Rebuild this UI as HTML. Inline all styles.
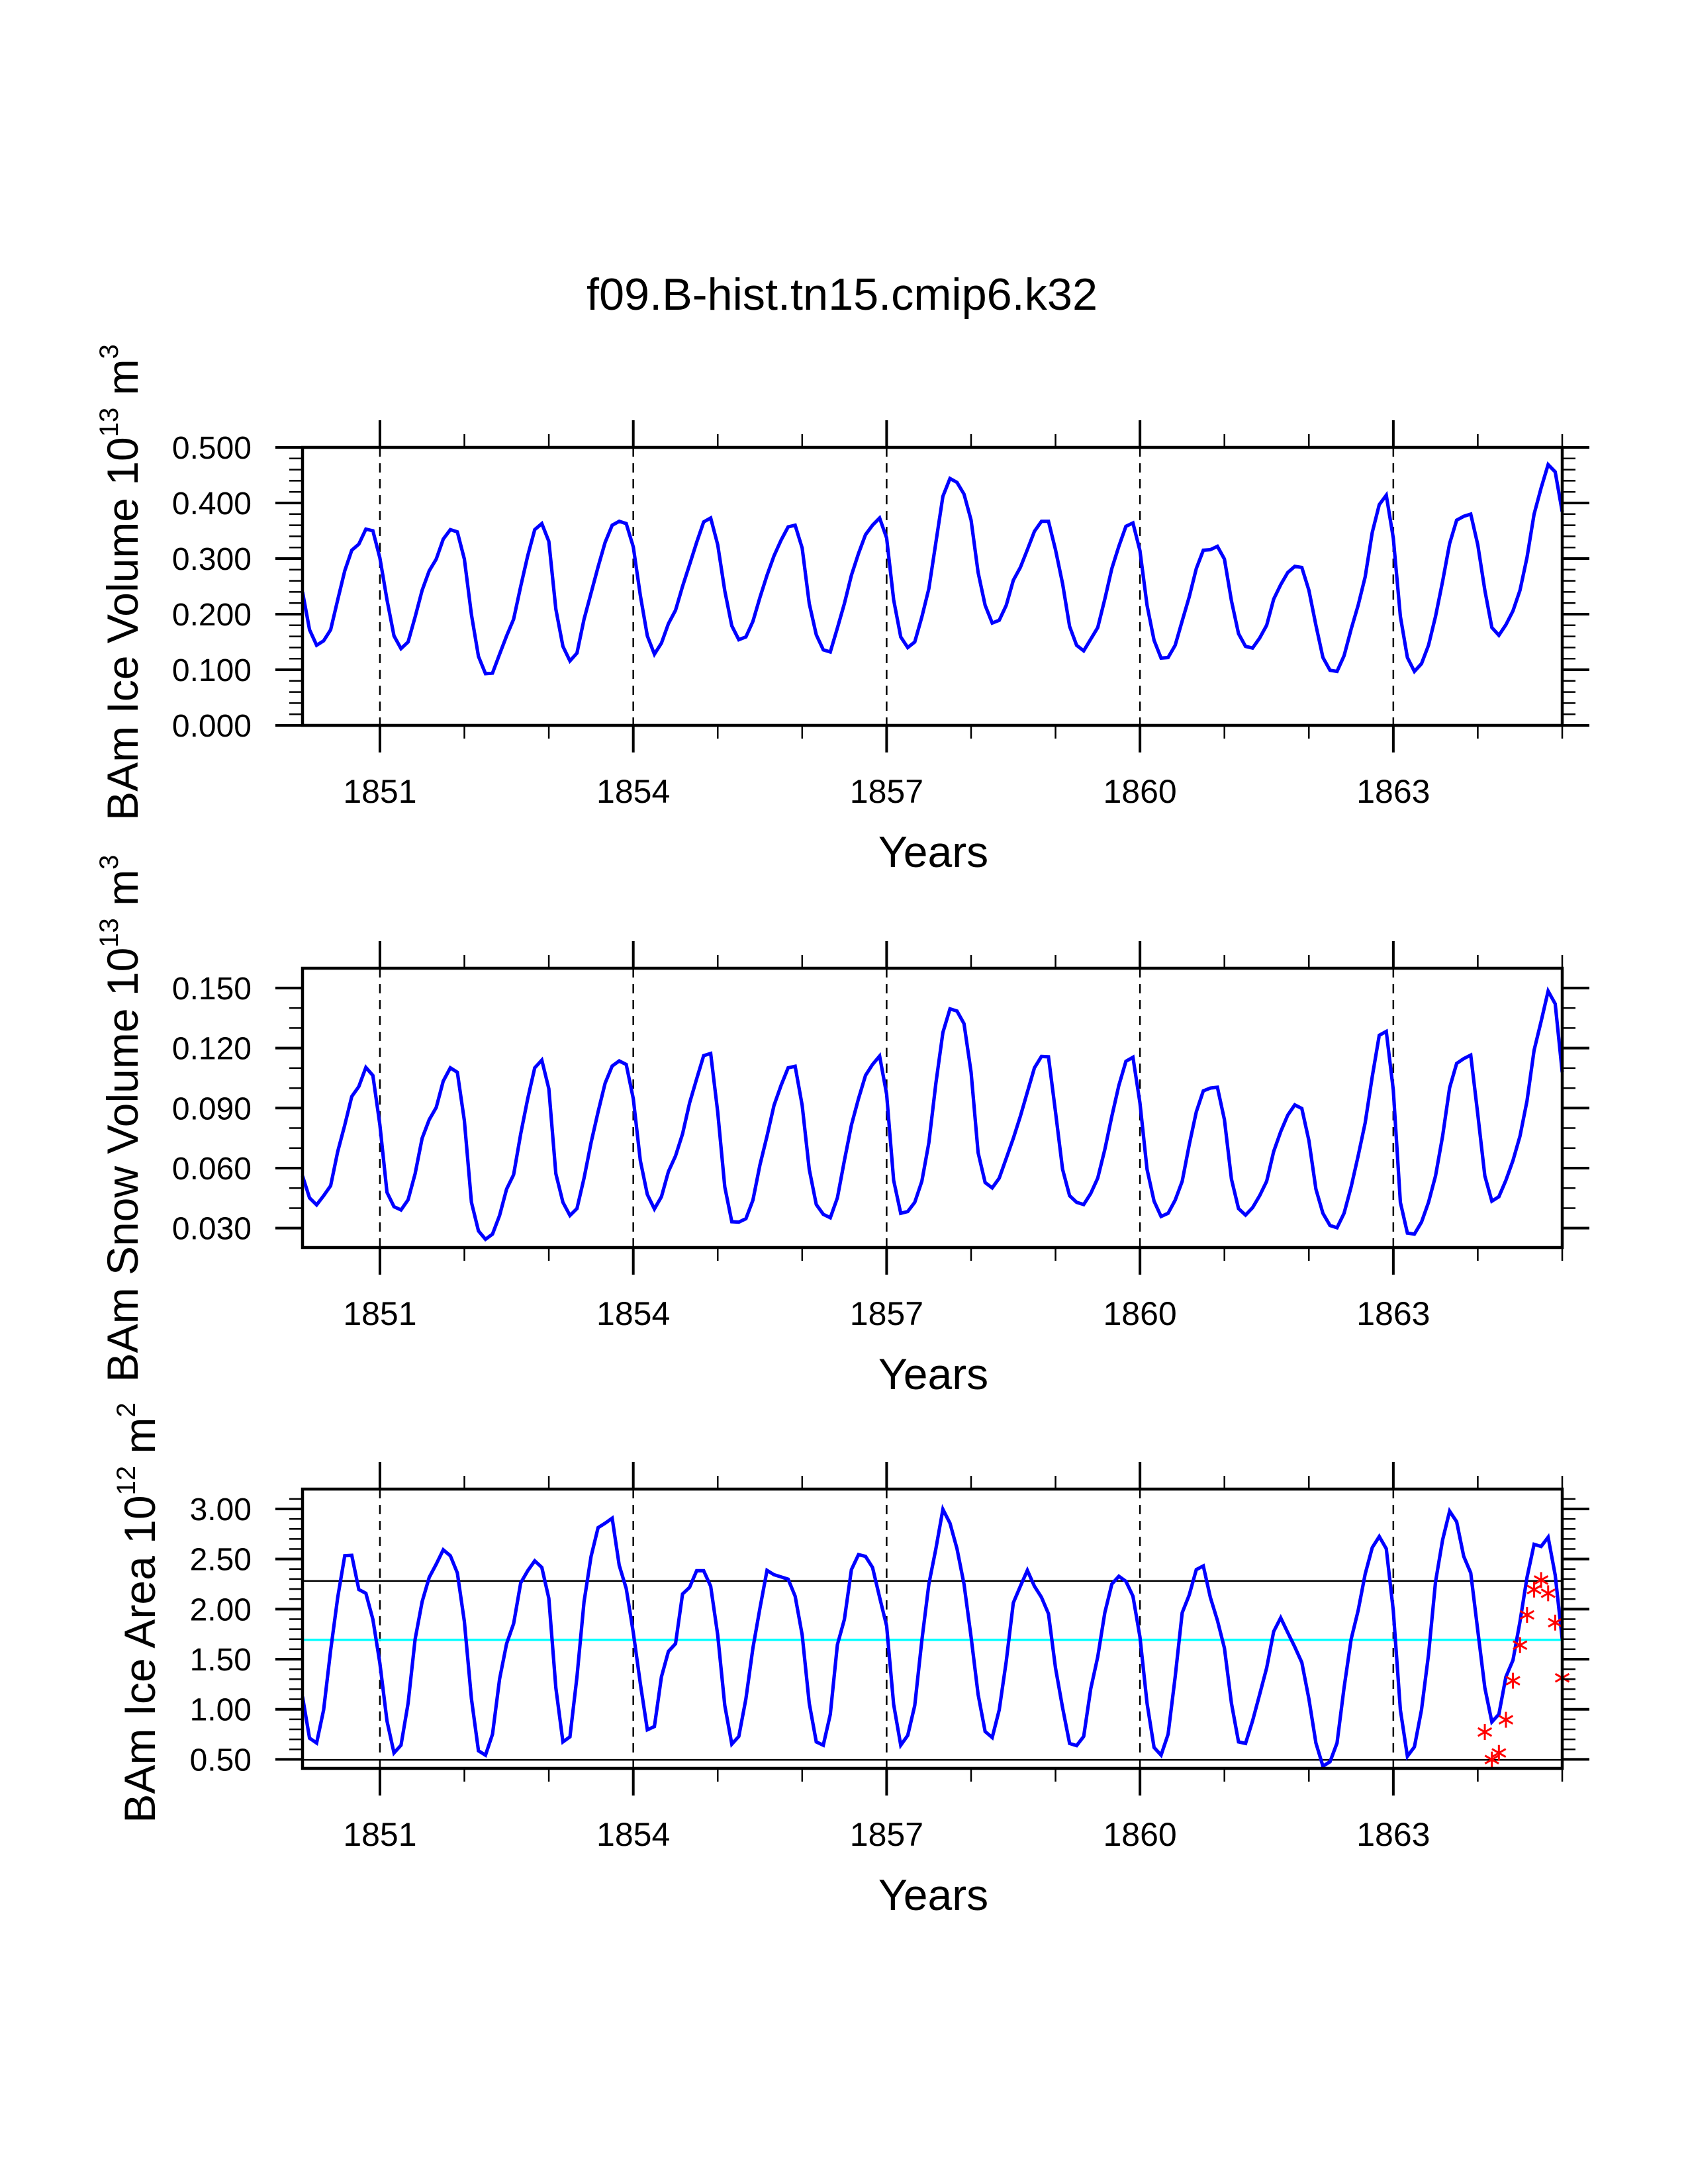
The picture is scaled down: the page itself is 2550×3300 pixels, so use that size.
<!DOCTYPE html>
<html>
<head>
<meta charset="utf-8">
<style>
html,body{margin:0;padding:0;background:#fff;}
svg{display:block;}
text{font-family:"Liberation Sans",Arial,sans-serif;fill:#000;}
</style>
</head>
<body>
<svg id="chart" xmlns="http://www.w3.org/2000/svg" width="2550" height="3300" viewBox="0 0 2550 3300">
<rect x="0" y="0" width="2550" height="3300" fill="#fff"/>
<text x="1272" y="468" font-size="68" text-anchor="middle" textLength="772" lengthAdjust="spacingAndGlyphs">f09.B-hist.tn15.cmip6.k32</text>
</svg>
<script>
// ---- data ----
const xTickYears = [1851, 1854, 1857, 1860, 1863];
const xTickLabels = ["1851", "1854", "1857", "1860", "1863"];

const iceVolume = [0.240,0.172,0.144,0.152,0.172,0.226,0.278,0.315,0.326,0.353,0.350,0.301,
0.226,0.161,0.138,0.150,0.195,0.243,0.278,0.299,0.335,0.352,0.348,0.299,
0.199,0.124,0.093,0.094,0.128,0.161,0.191,0.250,0.305,0.352,0.363,0.331,
0.209,0.142,0.116,0.130,0.191,0.238,0.285,0.329,0.360,0.367,0.363,0.321,
0.234,0.161,0.128,0.148,0.183,0.207,0.250,0.289,0.329,0.366,0.373,0.325,
0.242,0.179,0.154,0.159,0.187,0.230,0.270,0.305,0.333,0.357,0.360,0.319,
0.219,0.163,0.136,0.132,0.175,0.219,0.270,0.309,0.343,0.360,0.373,0.337,
0.226,0.159,0.140,0.150,0.195,0.246,0.329,0.412,0.444,0.437,0.416,0.369,
0.275,0.216,0.184,0.189,0.216,0.261,0.284,0.316,0.349,0.367,0.367,0.316,
0.255,0.178,0.144,0.134,0.155,0.176,0.227,0.282,0.322,0.358,0.364,0.314,
0.216,0.153,0.121,0.122,0.144,0.188,0.231,0.282,0.315,0.316,0.322,0.299,
0.224,0.165,0.142,0.139,0.157,0.180,0.227,0.253,0.275,0.286,0.284,0.243,
0.180,0.122,0.099,0.097,0.125,0.173,0.216,0.267,0.347,0.397,0.414,0.337,
0.196,0.122,0.097,0.111,0.144,0.196,0.259,0.327,0.369,0.376,0.380,0.325,
0.243,0.176,0.162,0.181,0.206,0.243,0.302,0.380,0.427,0.469,0.456,0.384];

const snowVolume = [0.0561,0.0451,0.0416,0.0462,0.0512,0.0683,0.0815,0.0958,0.1008,0.1103,0.1063,0.0815,
0.0479,0.0407,0.0391,0.0442,0.0572,0.0749,0.0842,0.0903,0.1035,0.1101,0.1079,0.0837,
0.0429,0.0286,0.0244,0.0270,0.0363,0.0495,0.0567,0.0771,0.0947,0.1101,0.1140,0.0997,
0.0572,0.0429,0.0363,0.0398,0.0550,0.0727,0.0881,0.1024,0.1110,0.1136,0.1118,0.0947,
0.0638,0.0468,0.0396,0.0457,0.0583,0.0661,0.0771,0.0925,0.1046,0.1162,0.1173,0.0881,
0.0506,0.0332,0.0330,0.0347,0.0440,0.0616,0.0760,0.0914,0.1013,0.1101,0.1109,0.0914,
0.0594,0.0418,0.0369,0.0352,0.0451,0.0638,0.0815,0.0947,0.1063,0.1118,0.1160,0.0969,
0.0539,0.0374,0.0383,0.0429,0.0534,0.0727,0.1024,0.1278,0.1396,0.1385,0.1322,0.1079,
0.0677,0.0528,0.0501,0.0550,0.0649,0.0749,0.0859,0.0980,0.1101,0.1158,0.1156,0.0881,
0.0594,0.0462,0.0429,0.0418,0.0473,0.0550,0.0693,0.0859,0.1013,0.1134,0.1154,0.0925,
0.0594,0.0435,0.0358,0.0374,0.0440,0.0534,0.0716,0.0881,0.0986,0.1000,0.1004,0.0842,
0.0545,0.0398,0.0365,0.0402,0.0462,0.0534,0.0683,0.0782,0.0865,0.0916,0.0898,0.0738,
0.0495,0.0374,0.0313,0.0302,0.0374,0.0506,0.0661,0.0826,0.1057,0.1264,0.1283,0.0991,
0.0429,0.0275,0.0270,0.0330,0.0429,0.0561,0.0760,0.1002,0.1123,0.1147,0.1165,0.0870,
0.0561,0.0435,0.0457,0.0539,0.0638,0.0760,0.0936,0.1189,0.1333,0.1485,0.1421,0.1079];

const iceArea = [1.126,0.712,0.663,0.994,1.589,2.118,2.533,2.537,2.195,2.158,1.898,1.457,
0.884,0.564,0.641,1.060,1.699,2.074,2.317,2.449,2.592,2.533,2.361,1.876,
1.104,0.586,0.542,0.751,1.302,1.655,1.854,2.261,2.383,2.482,2.416,2.107,
1.214,0.674,0.725,1.324,2.074,2.526,2.813,2.857,2.907,2.438,2.206,1.765,
1.258,0.795,0.828,1.324,1.578,1.655,2.151,2.217,2.383,2.383,2.228,1.743,
1.038,0.652,0.729,1.104,1.611,2.008,2.387,2.343,2.321,2.299,2.129,1.743,
1.060,0.674,0.641,0.950,1.644,1.898,2.394,2.544,2.526,2.416,2.118,1.832,
1.049,0.641,0.740,1.038,1.688,2.250,2.603,2.996,2.857,2.603,2.250,1.721,
1.148,0.778,0.718,0.994,1.479,2.063,2.228,2.387,2.228,2.118,1.953,1.413,
1.016,0.659,0.637,0.729,1.203,1.523,1.964,2.250,2.328,2.277,2.129,1.721,
1.060,0.619,0.542,0.751,1.324,1.964,2.140,2.394,2.431,2.118,1.887,1.611,
1.060,0.674,0.659,0.884,1.148,1.413,1.776,1.913,1.765,1.622,1.468,1.104,
0.663,0.432,0.476,0.663,1.214,1.699,1.986,2.350,2.614,2.724,2.603,1.986,
0.994,0.531,0.624,0.994,1.545,2.272,2.691,2.978,2.872,2.526,2.361,1.787,
1.214,0.873,0.950,1.324,1.490,1.876,2.317,2.647,2.625,2.718,2.339,1.699];

const obsMonthIndex = [168,169,170,171,172,173,174,175,176,177,178,179];
const obsIceArea = [0.773,0.498,0.564,0.895,1.285,1.640,1.942,2.195,2.290,2.158,1.865,1.314];

const areaRefHigh = 2.281;
const areaRefMean = 1.693;
const areaRefLow = 0.495;

const volTicks = [0.0, 0.1, 0.2, 0.3, 0.4, 0.5];
const volTickLabels = ["0.000","0.100","0.200","0.300","0.400","0.500"];
const snowTicks = [0.03, 0.06, 0.09, 0.12, 0.15];
const snowTickLabels = ["0.030","0.060","0.090","0.120","0.150"];
const areaTicks = [0.5, 1.0, 1.5, 2.0, 2.5, 3.0];
const areaTickLabels = ["0.50","1.00","1.50","2.00","2.50","3.00"];

// ---- layout ----
const NS = "http://www.w3.org/2000/svg";
const svg = document.getElementById("chart");
const X0 = 457, X1 = 2360, TMIN = 1850 + 1/12, TMAX = 1865;
function xScale(t){ return X0 + (t - TMIN) / (TMAX - TMIN) * (X1 - X0); }
function monthTime(i){ return 1850 + (i + 1) / 12; }

function mk(tag, attrs, parent){
  const e = document.createElementNS(NS, tag);
  for (const k in attrs) e.setAttribute(k, attrs[k]);
  (parent || svg).appendChild(e);
  return e;
}

const panels = [
  {key:"ice-volume", top:676, bottom:1096, ymin:0, ymax:0.5, ticks:volTicks, labels:volTickLabels, minor:0.02,
   data:iceVolume, titleX:208, titleY:880, titleMain:"BAm Ice Volume 10", sup1:"13", mid:" m", sup2:"3"},
  {key:"snow-volume", top:1463, bottom:1885, ymin:0.0203, ymax:0.1599, ticks:snowTicks, labels:snowTickLabels, minor:0.01,
   data:snowVolume, titleX:208, titleY:1690, titleMain:"BAm Snow Volume 10", sup1:"13", mid:" m", sup2:"3"},
  {key:"ice-area", top:2250, bottom:2672, ymin:0.410, ymax:3.198, ticks:areaTicks, labels:areaTickLabels, minor:0.1,
   data:iceArea, titleX:234, titleY:2437, titleMain:"BAm Ice Area 10", sup1:"12", mid:" m", sup2:"2"}
];

panels.forEach(function(p, pi){
  const g = mk("g", {});
  
  
  const yScale = function(v){ return p.bottom - (v - p.ymin) / (p.ymax - p.ymin) * (p.bottom - p.top); };

  xTickYears.forEach(function(yr){
    const x = xScale(yr);
    const l = mk("line", {x1:x, x2:x, y1:p.top, y2:p.bottom, stroke:"#000", "stroke-width":2.5, "stroke-dasharray":"14 10"}, g);
    
    
  });

  if (p.key === "ice-area"){
    [[areaRefHigh,"#000","ref-line-high"],[areaRefMean,"#00ffff","ref-line-mean"],[areaRefLow,"#000","ref-line-low"]].forEach(function(r){
      const y = yScale(r[0]);
      const l = mk("line", {x1:X0, x2:X1, y1:y, y2:y, stroke:r[1], "stroke-width":r[1]==="#000"?2.5:3.5}, g);
      
      
    });
  }

  let d = "";
  p.data.forEach(function(v, i){
    d += (i ? "L" : "M") + xScale(monthTime(i)).toFixed(1) + "," + yScale(v).toFixed(1);
  });
  const path = mk("path", {d:d, fill:"none", stroke:"#0000ff", "stroke-width":5.2, "stroke-linejoin":"miter"}, g);
  
  

  if (p.key === "ice-area"){
    obsMonthIndex.forEach(function(mi, k){
      const cx = xScale(monthTime(mi)), cy = yScale(obsIceArea[k]);
      const r = 12;
      const sg = mk("g", {stroke:"#ff0000", "stroke-width":3}, g);
      
      
      for (let a = 0; a < 3; a++){
        const ang = Math.PI/2 + a*Math.PI/3;
        mk("line", {x1:cx+r*Math.cos(ang), y1:cy-r*Math.sin(ang), x2:cx-r*Math.cos(ang), y2:cy+r*Math.sin(ang)}, sg);
      }
    });
  }

  const fr = mk("rect", {x:X0, y:p.top, width:X1-X0, height:p.bottom-p.top, fill:"none", stroke:"#000", "stroke-width":4.5}, g);
  
  

  for (let yr = 1851; yr <= 1865; yr++){
    const x = xScale(yr);
    const major = xTickYears.indexOf(yr) >= 0;
    const len = major ? 41 : 20;
    const sw = major ? 4 : 2.5;
    mk("line", {x1:x, x2:x, y1:p.top, y2:p.top-len, stroke:"#000", "stroke-width":sw}, g);
    mk("line", {x1:x, x2:x, y1:p.bottom, y2:p.bottom+len, stroke:"#000", "stroke-width":sw}, g);
  }
  xTickLabels.forEach(function(lab, k){
    const t = mk("text", {x:xScale(xTickYears[k]), y:p.bottom+117, "font-size":50, "text-anchor":"middle"}, g);
    t.textContent = lab;
    
    
  });
  const xt = mk("text", {x:1410, y:p.bottom+214, "font-size":66, "text-anchor":"middle"}, g);
  xt.textContent = "Years";
  
  

  const nMinor = Math.round((p.ymax - p.ymin) / p.minor) + 2;
  const start = Math.ceil(p.ymin / p.minor - 1e-6);
  for (let k = start; k < start + nMinor; k++){
    const v = k * p.minor;
    if (v < p.ymin - 1e-9 || v > p.ymax + 1e-9) continue;
    const y = yScale(v);
    mk("line", {x1:X0, x2:X0-20, y1:y, y2:y, stroke:"#000", "stroke-width":2.5}, g);
    mk("line", {x1:X1, x2:X1+20, y1:y, y2:y, stroke:"#000", "stroke-width":2.5}, g);
  }
  p.ticks.forEach(function(v, k){
    const y = yScale(v);
    mk("line", {x1:X0, x2:X0-41, y1:y, y2:y, stroke:"#000", "stroke-width":4}, g);
    mk("line", {x1:X1, x2:X1+41, y1:y, y2:y, stroke:"#000", "stroke-width":4}, g);
    const t = mk("text", {x:380, y:y+17, "font-size":48, "text-anchor":"end"}, g);
    t.textContent = p.labels[k];
    
    
  });

  const yt = mk("text", {x:0, y:0, "font-size":66, "text-anchor":"middle", transform:"translate(" + p.titleX + "," + p.titleY + ") rotate(-90)"}, g);
  
  
  const s0 = mk("tspan", {}, yt); s0.textContent = p.titleMain;
  const s1 = mk("tspan", {dy:-30, "font-size":40}, yt); s1.textContent = p.sup1;
  const s2 = mk("tspan", {dy:30}, yt); s2.textContent = p.mid;
  const s3 = mk("tspan", {dy:-30, "font-size":40}, yt); s3.textContent = p.sup2;
});
</script>
</body>
</html>
